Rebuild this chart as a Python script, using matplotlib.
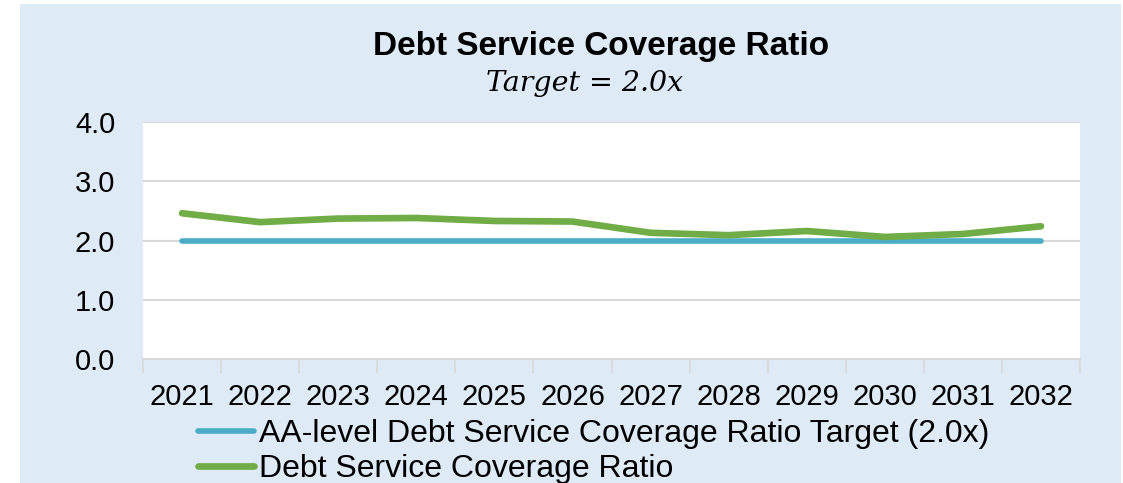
import numpy as np
import matplotlib.pyplot as plt
from matplotlib.patches import Rectangle
from matplotlib.lines import Line2D

# Datos
years = ['2021', '2022', '2023', '2024', '2025', '2026',
         '2027', '2028', '2029', '2030', '2031', '2032']
target = [2.0] * 12
dscr = [2.46, 2.31, 2.37, 2.38, 2.33, 2.32, 2.13, 2.09, 2.16, 2.06, 2.11, 2.24]
yticks = [0.0, 1.0, 2.0, 3.0, 4.0]
label_target = 'AA-level Debt Service Coverage Ratio Target (2.0x)'
label_dscr = 'Debt Service Coverage Ratio'

col_bg = '#DEEAF6'
col_blue = '#4BACC6'
col_green = '#70AD47'
col_grid = '#D9D9D9'

plt.rcParams['font.family'] = ['Liberation Sans', 'DejaVu Sans']

fig = plt.figure(figsize=(11.23, 4.83), dpi=100)
fig.patch.set_facecolor('white')
# fondo azul claro del grafico
fig.patches.append(Rectangle((20 / 1123, 0), 1101 / 1123, 479 / 483,
                             transform=fig.transFigure, facecolor=col_bg,
                             edgecolor='none', zorder=-5))

ax = fig.add_axes([143 / 1123, 1 - 359 / 483, 937 / 1123, 237 / 483])
ax.set_zorder(2)
ax.set_facecolor('white')

x = np.arange(len(years))
ax.plot(x, target, color=col_blue, lw=4.0, solid_capstyle='round', zorder=3)
ax.plot(x, dscr, color=col_green, lw=4.8, solid_capstyle='round',
        solid_joinstyle='round', zorder=4)

ax.set_xlim(-0.5, len(years) - 0.5)
ax.set_ylim(0, 4)
ax.set_yticks(yticks)
ax.set_yticklabels(['%.1f' % v for v in yticks])
ax.yaxis.grid(True, color=col_grid, lw=1.5)
ax.set_axisbelow(True)
ax.tick_params(axis='y', length=0, pad=20, labelsize=21)

# ticks entre categorias, etiquetas al centro
ax.set_xticks(np.arange(len(years) + 1) - 0.5)
ax.set_xticklabels([])
ax.set_xticks(x, minor=True)
ax.set_xticklabels(years, minor=True)
ax.tick_params(axis='x', which='major', length=10, width=1.2, color=col_grid)
ax.tick_params(axis='x', which='minor', length=0, pad=17, labelsize=21)

for s in ['top', 'right', 'left']:
    ax.spines[s].set_visible(False)
ax.spines['bottom'].set_color(col_grid)
ax.spines['bottom'].set_linewidth(1.5)

fig.text(0.535, 1 - 47 / 483, 'Debt Service Coverage Ratio', ha='center',
         va='center', fontsize=24, fontweight='bold')
fig.text(0.521, 1 - 83 / 483, 'Target = 2.0x', ha='center', va='center',
         fontsize=20.5, style='italic', family=['DejaVu Serif'])

handles = [Line2D([], [], color=col_blue, lw=4.0, solid_capstyle='round'),
           Line2D([], [], color=col_green, lw=4.8, solid_capstyle='round')]
fig.legend(handles, [label_target, label_dscr], loc='upper left',
           bbox_to_anchor=(198 / 1123, 1 - 419 / 483), frameon=False,
           fontsize=23, handlelength=1.75, handletextpad=0.15,
           labelspacing=0.17, borderpad=0, borderaxespad=0)

fig.savefig('out.png', dpi=100)
